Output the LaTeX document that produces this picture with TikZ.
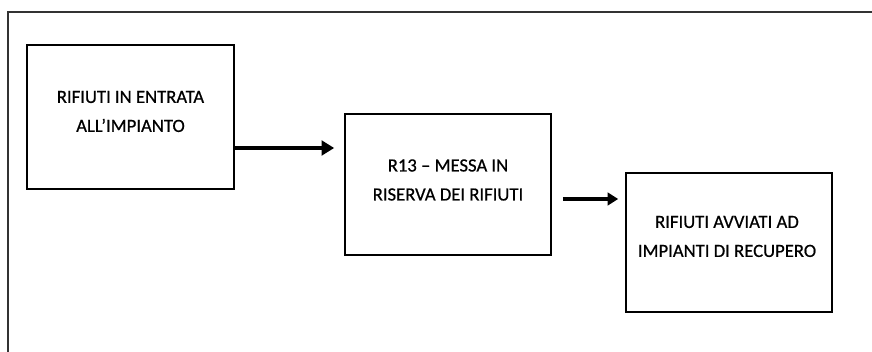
\documentclass[tikz,border=0pt]{standalone}
\usepackage{fontspec}
\setmainfont{Carlito}[FakeBold=0.6]
\usetikzlibrary{arrows.meta,calc}
\begin{document}
\begin{tikzpicture}[x=0.75pt,y=-0.75pt,
  box/.style={draw=black,line width=1.2pt,inner sep=0pt},
  lbl/.style={font=\fontsize{14}{21.75}\selectfont,align=center,text=black},
  flow/.style={line width=3.6pt,-{Triangle[length=9.5pt,width=11pt]}}]
\useasboundingbox (0,0) rectangle (872,352);
\fill[white] (0,0) rectangle (872,352);
\draw[line width=0.9pt,black!80] (8,352) -- (8,12) -- (872,12);
% boxes
\node[box,minimum width=207*0.75pt,minimum height=144*0.75pt] (b1) at (130.5,117) {};
\node[box,minimum width=206*0.75pt,minimum height=141*0.75pt] (b2) at (448,184.5) {};
\node[box,minimum width=206*0.75pt,minimum height=139*0.75pt] (b3) at (729,242.5) {};
% texts
\node[lbl] (t1) at (130.5,111.5) {RIFIUTI IN ENTRATA\\ALL’IMPIANTO};
\node[lbl] (t2) at (448,180) {R13 – MESSA IN\\RISERVA DEI RIFIUTI};
\node[lbl] (t3) at (727,236.5) {RIFIUTI AVVIATI AD\\IMPIANTI DI RECUPERO};
% arrows
\coordinate (a1s) at (b1.east |- 0,148);
\coordinate (a1e) at ($(b2.west |- 0,148)+(-10,0)$);
\draw[flow] (a1s) -- (a1e);
\coordinate (a2s) at ($(b2.east |- 0,199)+(11,0)$);
\coordinate (a2e) at ($(b3.west |- 0,199)+(-7,0)$);
\draw[flow,line width=3pt,-{Triangle[length=8pt,width=9.5pt]}] (a2s) -- (a2e);
\end{tikzpicture}
\end{document}
